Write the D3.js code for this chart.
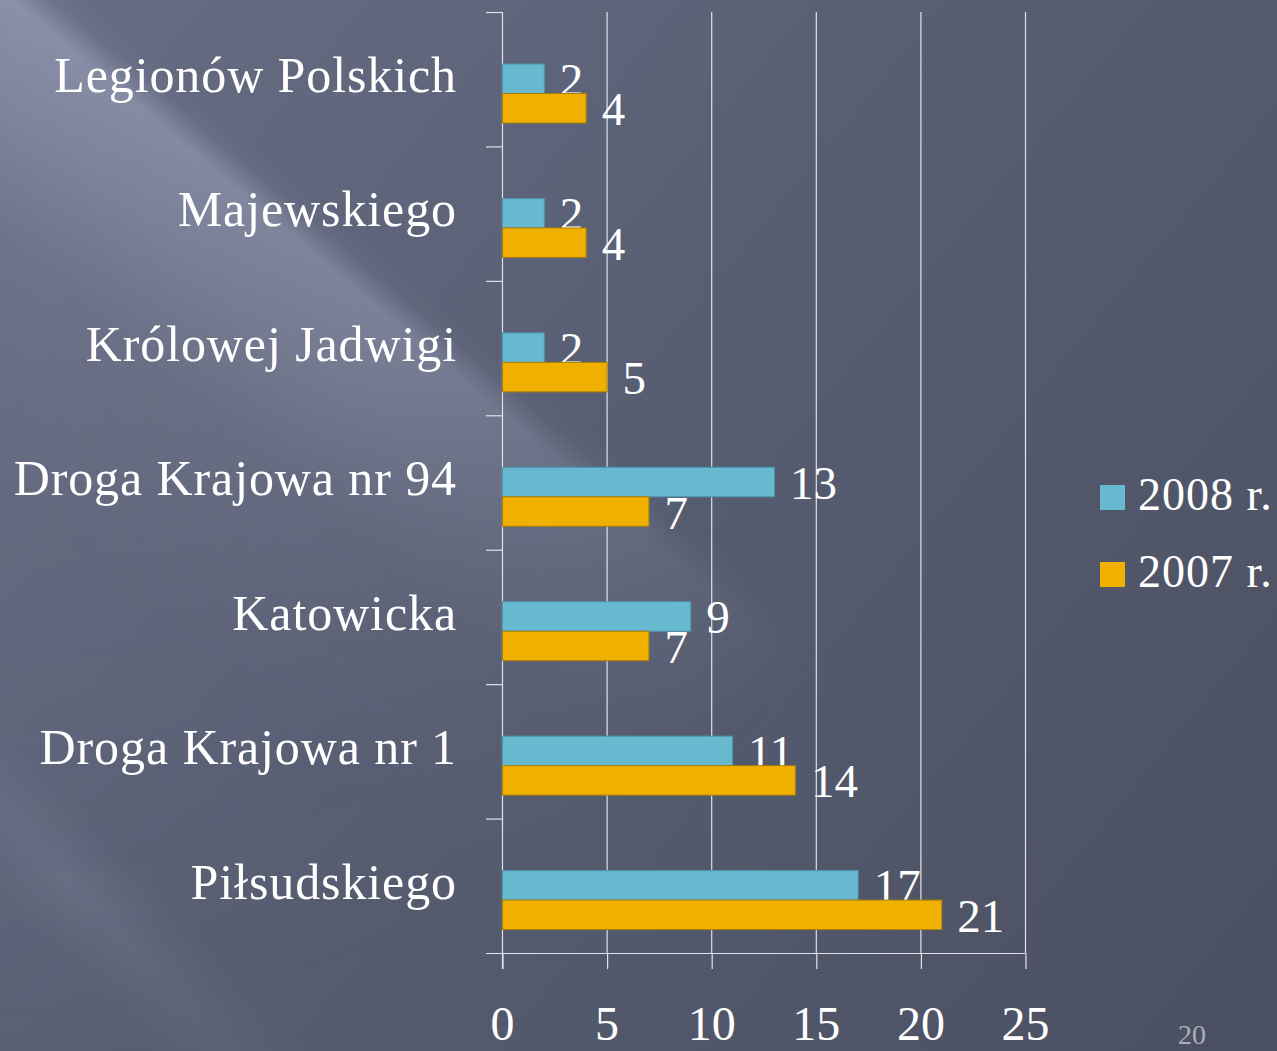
<!DOCTYPE html>
<html>
<head>
<meta charset="utf-8">
<script src="https://cdn.jsdelivr.net/npm/d3@7"></script>
<style>
  html, body { margin: 0; padding: 0; background: #50566a; overflow: hidden; }
  svg { display: block; }
</style>
</head>
<body>
<div id="chart"></div>
<script>
// dane
var categories = ["Legionów Polskich", "Majewskiego", "Królowej Jadwigi", "Droga Krajowa nr 94", "Katowicka", "Droga Krajowa nr 1", "Piłsudskiego"];
var values2008 = [2, 2, 2, 13, 9, 11, 17];
var values2007 = [4, 4, 5, 7, 7, 14, 21];
var seriesNames = ["2008 r.", "2007 r."];
var xTicks = [0, 5, 10, 15, 20, 25];
var pageNumber = "20";

var colors = ["#66b9cf", "#f0b000"];
var strokes = ["#4d93aa", "#a97e08"];

const width = 1277;
const height = 1051;
const fontFamily = "'Liberation Serif', 'DejaVu Serif', serif";

var series = [
    { name: seriesNames[0], values: values2008 },
    { name: seriesNames[1], values: values2007 }
];

var svg = d3.select("#chart")
    .append("svg")
    .attr("width", width)
    .attr("height", height);

// tło
var defs = svg.append("defs");
var bg = defs.append("linearGradient")
    .attr("id", "bg")
    .attr("gradientUnits", "userSpaceOnUse")
    .attr("x1", 0).attr("y1", 0)
    .attr("x2", width).attr("y2", height);
bg.append("stop").attr("offset", 0).attr("stop-color", "#676d84");
bg.append("stop").attr("offset", 0.45).attr("stop-color", "#585e72");
bg.append("stop").attr("offset", 1).attr("stop-color", "#4a5061");

function addStops(grad, stops) {
    stops.forEach(function (s) {
        grad.append("stop")
            .attr("offset", s[0])
            .attr("stop-color", "#c9d1ec")
            .attr("stop-opacity", s[1]);
    });
}

// jasny pas po przekątnej (górny lewy róg)
var streak = defs.append("linearGradient")
    .attr("id", "streak")
    .attr("gradientUnits", "userSpaceOnUse")
    .attr("x1", 59).attr("y1", -23)
    .attr("x2", -219).attr("y2", 305);
addStops(streak, [[0, 0], [0.05, 0.06], [0.11, 0.36], [0.3, 0.27], [0.55, 0.11], [1, 0.04]]);

// słabszy pas w lewym dolnym rogu
var streak2 = defs.append("linearGradient")
    .attr("id", "streak2")
    .attr("gradientUnits", "userSpaceOnUse")
    .attr("x1", 50).attr("y1", 770)
    .attr("x2", -40).attr("y2", 856);
addStops(streak2, [[0, 0], [0.5, 0.11], [1, 0.02]]);

var fade = defs.append("radialGradient")
    .attr("id", "fade")
    .attr("gradientUnits", "userSpaceOnUse")
    .attr("cx", 0).attr("cy", 0).attr("r", 1050);
fade.append("stop").attr("offset", 0).attr("stop-color", "#fff");
fade.append("stop").attr("offset", 0.5).attr("stop-color", "#fff").attr("stop-opacity", 0.75);
fade.append("stop").attr("offset", 1).attr("stop-color", "#fff").attr("stop-opacity", 0);
defs.append("mask").attr("id", "fadeMask")
    .append("rect")
    .attr("width", width).attr("height", height)
    .attr("fill", "url(#fade)");

var fade2 = defs.append("radialGradient")
    .attr("id", "fade2")
    .attr("gradientUnits", "userSpaceOnUse")
    .attr("cx", 60).attr("cy", 880).attr("r", 420);
fade2.append("stop").attr("offset", 0).attr("stop-color", "#fff");
fade2.append("stop").attr("offset", 1).attr("stop-color", "#fff").attr("stop-opacity", 0);
defs.append("mask").attr("id", "fadeMask2")
    .append("rect")
    .attr("width", width).attr("height", height)
    .attr("fill", "url(#fade2)");

svg.append("rect").attr("width", width).attr("height", height).attr("fill", "url(#bg)");
svg.append("rect").attr("width", width).attr("height", height)
    .attr("fill", "url(#streak)").attr("mask", "url(#fadeMask)");
svg.append("rect").attr("width", width).attr("height", height)
    .attr("fill", "url(#streak2)").attr("mask", "url(#fadeMask2)");

// skale
var plot = { left: 502, right: 1025, top: 12, bottom: 953 };

const xScale = d3.scaleLinear()
    .domain([0, 25])
    .range([plot.left, plot.right]);

const yScale = d3.scaleBand()
    .domain(categories)
    .range([plot.top, plot.bottom]);

// słupki są przesunięte w dół wewnątrz pasma
const subScale = d3.scaleBand()
    .domain(seriesNames)
    .range([52, 111]);

// linie siatki
svg.append("g")
    .selectAll("line")
    .data(xTicks.slice(1))
    .enter()
    .append("line")
    .attr("x1", d => xScale(d) + 0.5)
    .attr("x2", d => xScale(d) + 0.5)
    .attr("y1", plot.top)
    .attr("y2", plot.bottom)
    .attr("stroke", "#dfe2e8")
    .attr("stroke-width", 1.2);

// oś x
const xAxis = d3.axisBottom(xScale)
    .tickValues(xTicks)
    .tickSize(16)
    .tickFormat(d3.format("d"));

const gx = svg.append("g")
    .attr("transform", `translate(0, ${plot.bottom})`)
    .call(xAxis);
gx.select(".domain").remove();
gx.selectAll(".tick line")
    .attr("stroke", "#dfe2e8")
    .attr("stroke-width", 1.2)
    .attr("transform", "translate(0.5,0)");
gx.selectAll(".tick text")
    .attr("y", 87)
    .attr("dy", 0)
    .attr("fill", "#ffffff")
    .style("font-family", fontFamily)
    .style("font-size", "48px");

// oś y (kreski na granicach kategorii)
var boundaries = categories.map(c => yScale(c)).concat([plot.bottom]);
svg.append("line")
    .attr("x1", plot.left + 0.5).attr("x2", plot.left + 0.5)
    .attr("y1", plot.top).attr("y2", plot.bottom + 16)
    .attr("stroke", "#dfe2e8").attr("stroke-width", 1.2);
svg.append("g")
    .selectAll("line")
    .data(boundaries)
    .enter()
    .append("line")
    .attr("x1", plot.left - 16)
    .attr("x2", (d, i) => i == boundaries.length - 1 ? plot.right : plot.left)
    .attr("y1", d => d + 0.5)
    .attr("y2", d => d + 0.5)
    .attr("stroke", "#dfe2e8")
    .attr("stroke-width", 1.2);

// etykiety kategorii
svg.append("g")
    .selectAll("text")
    .data(categories)
    .enter()
    .append("text")
    .text(d => d)
    .attr("x", 457)
    .attr("y", d => yScale(d) + 80)
    .attr("text-anchor", "end")
    .attr("fill", "#ffffff")
    .style("letter-spacing", "0.9px")
    .style("font-family", fontFamily)
    .style("font-size", "50px");

// słupki
for (var s = 0; s < series.length; ++s) {
    var g = svg.append("g");
    var sname = series[s].name;
    g.selectAll("rect")
        .data(series[s].values)
        .enter()
        .append("rect")
        .attr("x", xScale(0) + 0.5)
        .attr("y", (d, i) => yScale(categories[i]) + subScale(sname))
        .attr("width", d => xScale(d) - xScale(0))
        .attr("height", subScale.bandwidth())
        .attr("fill", colors[s])
        .attr("stroke", strokes[s])
        .attr("stroke-width", 1);
    g.selectAll("text")
        .data(series[s].values)
        .enter()
        .append("text")
        .text(d => d)
        .attr("x", d => xScale(d) + 16)
        .attr("y", (d, i) => yScale(categories[i]) + subScale(sname) + subScale.bandwidth() / 2 + 17)
        .attr("fill", "#ffffff")
        .style("font-family", fontFamily)
        .style("font-size", "47px");
}

// legenda
var legend = svg.append("g");
legend.selectAll("rect")
    .data(series)
    .enter()
    .append("rect")
    .attr("x", 1100)
    .attr("y", (d, i) => 485 + i * 77)
    .attr("width", 25)
    .attr("height", 25)
    .attr("fill", (d, i) => colors[i]);
legend.selectAll("text")
    .data(series)
    .enter()
    .append("text")
    .text(d => d.name)
    .attr("x", 1138)
    .attr("y", (d, i) => 510 + i * 77)
    .attr("fill", "#ffffff")
    .style("letter-spacing", "1px")
    .style("font-family", fontFamily)
    .style("font-size", "46px");

// numer slajdu
svg.append("text")
    .text(pageNumber)
    .attr("x", 1192)
    .attr("y", 1044)
    .attr("text-anchor", "middle")
    .attr("fill", "#a9aebb")
    .style("font-family", fontFamily)
    .style("font-size", "28px");
</script>
</body>
</html>
